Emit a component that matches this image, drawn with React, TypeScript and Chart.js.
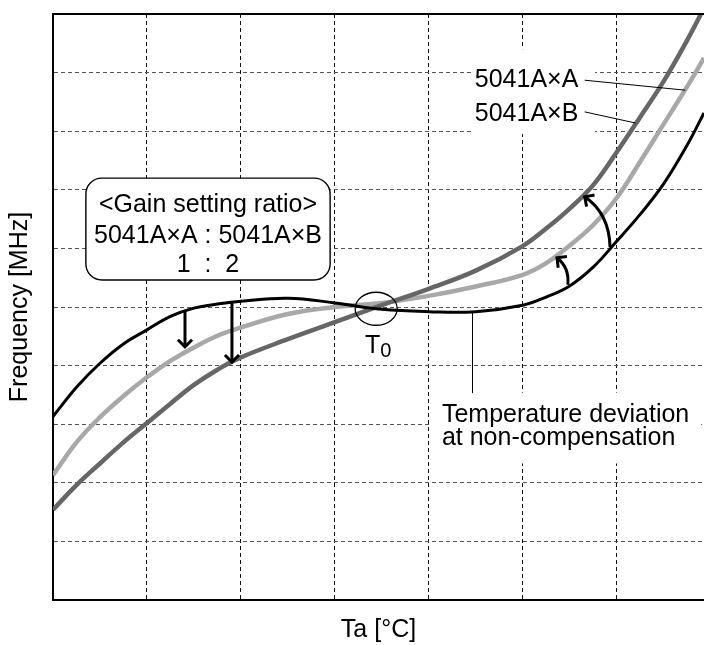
import React, { useEffect, useRef } from 'react';
import { Chart, registerables } from 'chart.js';

Chart.register(...registerables);

// Temperature axis positions (grid units) and frequency values (grid units)
const temps = [0, 0.25, 0.5, 0.75, 1, 1.25, 1.5, 1.75, 2, 2.5, 3, 3.5, 4, 4.5, 5, 5.25, 5.5, 5.75, 6, 6.25, 6.5, 6.75, 6.93];
const nonComp = [3.13, 3.63, 4.04, 4.37, 4.61, 4.84, 4.98, 5.05, 5.1, 5.15, 5.07, 4.96, 4.92, 4.92, 5.03, 5.17, 5.36, 5.68, 6.12, 6.58, 7.1, 7.76, 8.31];
const gainA = [2.13, 2.69, 3.12, 3.48, 3.8, 4.08, 4.31, 4.51, 4.65, 4.88, 5.0, 5.07, 5.19, 5.35, 5.55, 5.75, 6.05, 6.4, 6.86, 7.48, 8.12, 8.76, 9.25];
const gainB = [1.54, 1.96, 2.33, 2.69, 3.02, 3.35, 3.67, 3.93, 4.14, 4.45, 4.74, 5.03, 5.31, 5.62, 6.04, 6.34, 6.68, 7.08, 7.64, 8.24, 8.85, 9.55, 10.1];

const seriesNames = ['Temperature deviation at non-compensation', '5041A×A', '5041A×B'];
const boxLines = ['<Gain setting ratio>', '5041A×A : 5041A×B', '1  :  2'];

const FONT = '"Liberation Sans", Arial, Helvetica, sans-serif';

const toPts = (ys: number[]) => temps.map((t, i) => ({ x: t, y: ys[i] }));

const annotPlugin = {
  id: 'annot',
  afterDraw(chart: any) {
    const { ctx, chartArea, scales } = chart;
    const X = (v: number) => scales.x.getPixelForValue(v);
    const Y = (v: number) => scales.y.getPixelForValue(v);
    ctx.save();

    // top frame line
    ctx.strokeStyle = '#000';
    ctx.lineWidth = 2;
    ctx.beginPath();
    ctx.moveTo(chartArea.left - 1, chartArea.top);
    ctx.lineTo(chartArea.right, chartArea.top);
    ctx.stroke();

    const vHead = (tx: number, ty: number, ang: number) => {
      const L = 10;
      ctx.beginPath();
      ctx.moveTo(tx - L * Math.cos(ang - Math.PI / 4), ty - L * Math.sin(ang - Math.PI / 4));
      ctx.lineTo(tx, ty);
      ctx.lineTo(tx - L * Math.cos(ang + Math.PI / 4), ty - L * Math.sin(ang + Math.PI / 4));
      ctx.stroke();
    };

    // straight down arrows
    ctx.lineWidth = 3;
    ctx.lineJoin = 'miter';
    ctx.lineCap = 'butt';
    const downArrows = [
      [1.405, 4.95, 4.32],
      [1.905, 5.1, 4.06],
    ];
    downArrows.forEach(([ax, y1, y2]) => {
      const px = X(ax);
      ctx.beginPath();
      ctx.moveTo(px, Y(y1));
      ctx.lineTo(px, Y(y2) - 1);
      ctx.stroke();
      vHead(px, Y(y2), Math.PI / 2);
    });

    // curved arrows
    const curved = [
      [5.48, 5.38, 5.5, 5.67, 5.365, 5.84],
      [5.93, 6.02, 5.92, 6.6, 5.66, 6.88],
    ];
    curved.forEach(([sx, sy, cx, cy, ex, ey]) => {
      const p0 = [X(sx), Y(sy)], c = [X(cx), Y(cy)], p1 = [X(ex), Y(ey)];
      ctx.beginPath();
      ctx.moveTo(p0[0], p0[1]);
      ctx.quadraticCurveTo(c[0], c[1], p1[0], p1[1]);
      ctx.stroke();
      vHead(p1[0], p1[1], Math.atan2(p1[1] - c[1], p1[0] - c[0]));
    });

    // T0 ellipse
    ctx.lineWidth = 1.3;
    ctx.beginPath();
    ctx.ellipse(X(3.44), Y(4.97), 21, 16.5, 0, 0, Math.PI * 2);
    ctx.stroke();

    // T0 label
    ctx.fillStyle = '#000';
    ctx.textBaseline = 'alphabetic';
    ctx.textAlign = 'left';
    ctx.font = `25px ${FONT}`;
    const tx = X(3.32);
    ctx.fillText('T', tx, Y(4.215));
    const tw = ctx.measureText('T').width;
    ctx.font = `20px ${FONT}`;
    ctx.fillText('0', tx + tw, Y(4.15));

    // gain ratio box
    const bx0 = X(0.35), bx1 = X(2.95), by0 = Y(7.2), by1 = Y(5.46);
    ctx.fillStyle = '#fff';
    ctx.strokeStyle = '#000';
    ctx.lineWidth = 1.4;
    ctx.beginPath();
    ctx.roundRect(bx0, by0, bx1 - bx0, by1 - by0, 16);
    ctx.fill();
    ctx.stroke();
    ctx.fillStyle = '#000';
    ctx.font = `25px ${FONT}`;
    ctx.textAlign = 'center';
    const boxY = [6.62, 6.09, 5.6];
    boxLines.forEach((s, i) => ctx.fillText(s, X(1.65), Y(boxY[i])));

    // series labels with leader lines
    ctx.textAlign = 'left';
    ctx.fillStyle = '#fff';
    ctx.fillRect(X(4.45), Y(9.4), X(5.77) - X(4.45), Y(7.95) - Y(9.4));
    ctx.fillStyle = '#000';
    ctx.fillText(seriesNames[1], X(4.49), Y(8.75));
    ctx.fillText(seriesNames[2], X(4.49), Y(8.17));
    ctx.lineWidth = 1;
    ctx.beginPath();
    ctx.moveTo(X(5.66), Y(8.87));
    ctx.lineTo(X(6.73), Y(8.7));
    ctx.moveTo(X(5.66), Y(8.33));
    ctx.lineTo(X(6.2), Y(8.14));
    ctx.stroke();

    // non-compensation label
    ctx.fillStyle = '#fff';
    ctx.fillRect(X(4.03), Y(3.54), X(6.9) - X(4.03), Y(2.33) - Y(3.54));
    const lx = Math.round(X(4.46)) + 0.5;
    ctx.beginPath();
    ctx.moveTo(lx, Y(4.91));
    ctx.lineTo(lx, Y(3.53));
    ctx.stroke();
    ctx.fillStyle = '#000';
    ctx.fillText('Temperature deviation', X(4.14), Y(3.04));
    ctx.fillText('at non-compensation', X(4.14), Y(2.65));

    ctx.restore();
  },
};

export default function App() {
  const ref = useRef<HTMLCanvasElement>(null);
  useEffect(() => {
    if (!ref.current) return;
    const chart = new Chart(ref.current, {
      type: 'line',
      data: {
        datasets: [
          {
            label: seriesNames[0],
            data: toPts(nonComp),
            borderColor: '#000',
            borderWidth: 3,
            pointRadius: 0,
            tension: 0.4,
            order: 0,
          },
          {
            label: seriesNames[2],
            data: toPts(gainB),
            borderColor: '#666666',
            borderWidth: 4.5,
            pointRadius: 0,
            tension: 0.4,
            order: 1,
          },
          {
            label: seriesNames[1],
            data: toPts(gainA),
            borderColor: '#a8a8a8',
            borderWidth: 4.5,
            pointRadius: 0,
            tension: 0.4,
            order: 2,
          },
        ],
      },
      options: {
        responsive: false,
        animation: false,
        layout: { padding: { top: 14, left: 0, right: 0, bottom: 0 } },
        plugins: { legend: { display: false }, tooltip: { enabled: false } },
        scales: {
          x: {
            type: 'linear',
            min: 0,
            max: 6.93,
            ticks: { display: false, stepSize: 1, includeBounds: false },
            grid: { color: '#111', lineWidth: 1, drawTicks: false },
            border: { display: true, color: '#000', width: 2, dash: [4, 3] },
            title: {
              display: true,
              text: 'Ta [°C]',
              color: '#000',
              font: { family: FONT, size: 25 },
              padding: { top: 0, bottom: 0 },
            },
            afterFit: (s: any) => { s.height = 45; },
          },
          y: {
            type: 'linear',
            min: 0,
            max: 10,
            ticks: { display: false, stepSize: 1 },
            grid: { color: '#555', lineWidth: 1, drawTicks: false },
            border: { display: true, color: '#000', width: 2, dash: [4, 3] },
            title: {
              display: true,
              text: 'Frequency [MHz]',
              color: '#000',
              font: { family: FONT, size: 25 },
              padding: { top: 5, bottom: 0 },
            },
            afterFit: (s: any) => { s.width = 53; },
          },
        },
      },
      plugins: [annotPlugin],
    });
    return () => chart.destroy();
  }, []);
  return (
    <div style={{ position: 'fixed', left: 0, top: 0, width: 704, height: 645, background: '#fff' }}>
      <canvas ref={ref} width={704} height={645} style={{ display: 'block' }} />
    </div>
  );
}
